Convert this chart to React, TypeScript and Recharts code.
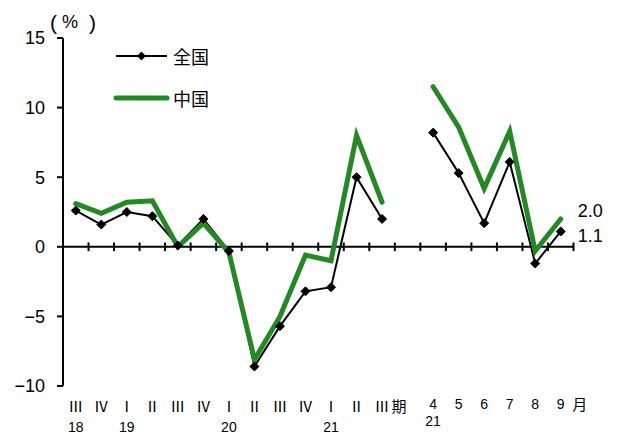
import React from 'react';
import { LineChart, Line, XAxis, YAxis, ReferenceLine, LabelList } from 'recharts';

// category labels (20 slots: 13 quarters, 1 gap, 6 months)
const periods = ['Ⅲ', 'Ⅳ', 'Ⅰ', 'Ⅱ', 'Ⅲ', 'Ⅳ', 'Ⅰ', 'Ⅱ', 'Ⅲ', 'Ⅳ', 'Ⅰ', 'Ⅱ', 'Ⅲ', '', '4', '5', '6', '7', '8', '9'];
const years = ['18', '', '19', '', '', '', '20', '', '', '', '21', '', '', '', '21', '', '', '', '', ''];
const suffixes = ['', '', '', '', '', '', '', '', '', '', '', '', '期', '', '', '', '', '', '', '月'];

// series values (%)
const national: (number | null)[] = [2.6, 1.6, 2.5, 2.2, 0.1, 2.0, -0.3, -8.6, -5.7, -3.2, -2.9, 5.0, 2.0, null, 8.2, 5.3, 1.7, 6.1, -1.2, 1.1];
const chugoku: (number | null)[] = [3.1, 2.4, 3.2, 3.3, 0.0, 1.7, -0.4, -8.1, -5.0, -0.6, -1.0, 8.0, 3.2, null, 11.5, 8.6, 4.2, 8.3, -0.3, 2.0];

const yTicks = [-10, -5, 0, 5, 10, 15];
const boundaries = Array.from({ length: periods.length + 1 }, (_, i) => i);
const centers = periods.map((_, i) => i + 0.5);

const data = periods.map((p, i) => ({
  x: i + 0.5,
  national: national[i],
  chugoku: chugoku[i],
}));

const GREEN = '#238a23';
const NUMFONT = '"Liberation Sans", Arial, sans-serif';
const JFONT = '"Noto Sans CJK JP", "Noto Sans", sans-serif';

function XTick(props: any) {
  const { x, y, payload } = props;
  const i = Math.round(payload.value - 0.5);
  const isMonth = i >= 14;
  const p = periods[i];
  const yr = years[i];
  const sfx = suffixes[i];
  return (
    <g>
      {p ? (
        <text
          x={x}
          y={isMonth ? y + 15 : y + 18}
          textAnchor="middle"
          fontSize={isMonth ? 14 : 15}
          fontFamily={isMonth ? NUMFONT : JFONT}
          fill="#000"
        >
          {p}
        </text>
      ) : null}
      {sfx ? (
        <text x={x + (isMonth ? 19 : 17)} y={isMonth ? y + 16 : y + 18} textAnchor="middle" fontSize={15} fontFamily={JFONT} fill="#000">
          {sfx}
        </text>
      ) : null}
      {yr ? (
        <text x={x} y={isMonth ? y + 32 : y + 38} textAnchor="middle" fontSize={14} fontFamily={NUMFONT} fill="#000">
          {yr}
        </text>
      ) : null}
    </g>
  );
}

function Diamond(props: any) {
  const { cx, cy, index } = props;
  if (cx == null || cy == null || props.value == null) return <g key={'d' + index} />;
  const r = 4.5;
  return (
    <path
      key={'d' + index}
      d={`M${cx},${cy - r}L${cx + r},${cy}L${cx},${cy + r}L${cx - r},${cy}Z`}
      fill="#000"
      stroke="#000"
      strokeWidth={1}
    />
  );
}

const makeEndLabel = (dy: number) => (props: any) => {
  const { x, y, value, index } = props;
  if (index !== periods.length - 1 || value == null) return null;
  return (
    <text x={x + 17} y={y + dy} fontSize={18} fontFamily={NUMFONT} fill="#000" dominantBaseline="central">
      {Number(value).toFixed(1)}
    </text>
  );
};

const fmtY = (v: number) => (v < 0 ? '−' + Math.abs(v) : String(v));

export default function App() {
  return (
    <div style={{ position: 'absolute', left: 0, top: 0, width: 618, height: 435, background: '#fff' }}>
      <LineChart width={618} height={435} data={data} margin={{ top: 38, right: 44.5, bottom: 4, left: 0 }}>
        <XAxis
          type="number"
          dataKey="x"
          domain={[0, periods.length]}
          ticks={centers}
          tick={<XTick />}
          axisLine={false}
          tickLine={false}
          height={45}
          interval={0}
          allowDataOverflow
        />
        <YAxis
          type="number"
          domain={[-10, 15]}
          ticks={yTicks}
          width={63}
          tickFormatter={fmtY}
          tick={{ fontSize: 18, fontFamily: NUMFONT, fill: '#000' }}
          tickMargin={12}
          axisLine={{ stroke: '#000', strokeWidth: 2 }}
          tickLine={{ stroke: '#000', strokeWidth: 2 }}
          interval={0}
        />
        <ReferenceLine y={0} stroke="#000" strokeWidth={2} />
        {boundaries.map((b) => (
          <ReferenceLine
            key={'t' + b}
            segment={[
              { x: b, y: -0.31 },
              { x: b, y: 0.31 },
            ]}
            stroke="#000"
            strokeWidth={2}
          />
        ))}
        <Line
          type="linear"
          dataKey="national"
          stroke="#000"
          strokeWidth={2}
          dot={Diamond}
          activeDot={false}
          connectNulls={false}
          isAnimationActive={false}
        >
          <LabelList dataKey="national" content={makeEndLabel(5)} />
        </Line>
        <Line
          type="linear"
          dataKey="chugoku"
          stroke={GREEN}
          strokeWidth={5}
          strokeLinecap="round"
          dot={false}
          activeDot={false}
          connectNulls={false}
          isAnimationActive={false}
        >
          <LabelList dataKey="chugoku" content={makeEndLabel(-8)} />
        </Line>
        {/* unit label */}
        <text y={22} dominantBaseline="central" fontFamily={NUMFONT} fill="#000">
          <tspan x={50} fontSize={21}>(</tspan>
          <tspan x={62} fontSize={18}>%</tspan>
          <tspan x={89} fontSize={21}>)</tspan>
        </text>
        {/* legend */}
        <g>
          <line x1={116} y1={56} x2={167} y2={56} stroke="#000" strokeWidth={2} />
          <path d="M141.5,51.5L146,56L141.5,60.5L137,56Z" fill="#000" />
          <text x={173} y={56} dominantBaseline="central" fontSize={18} fontFamily={JFONT} fill="#000">
            全国
          </text>
          <line x1={116} y1={98} x2={167} y2={98} stroke={GREEN} strokeWidth={5} strokeLinecap="round" />
          <text x={173} y={98} dominantBaseline="central" fontSize={18} fontFamily={JFONT} fill="#000">
            中国
          </text>
        </g>
      </LineChart>
    </div>
  );
}
